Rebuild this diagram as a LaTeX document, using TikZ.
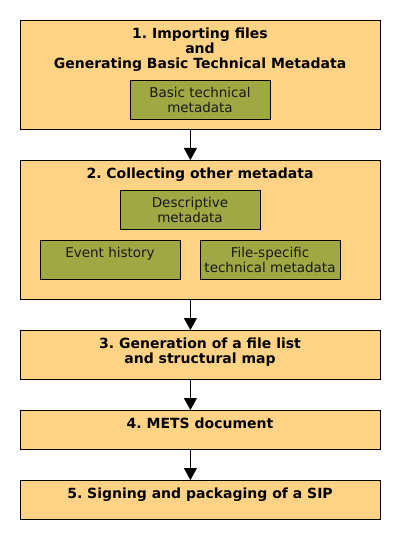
\documentclass[tikz,border=0pt]{standalone}
\usepackage{fontspec}
\setmainfont{DejaVu Sans}
\frenchspacing
\usetikzlibrary{arrows.meta}
\definecolor{stageorange}{HTML}{FFD385}
\definecolor{metagreen}{HTML}{A0A843}
\tikzset{
  stagebox/.style={draw=black, line width=0.8pt, fill=stageorange, minimum width=360pt, inner sep=0pt, anchor=north west},
  metabox/.style={draw=black, line width=0.8pt, fill=metagreen, minimum width=140pt, minimum height=39pt, inner sep=0pt, anchor=north west},
  title/.style={font=\fontsize{14}{15}\selectfont\bfseries, align=center, inner sep=0pt, anchor=north},
  metatext/.style={font=\fontsize{13.5}{15}\selectfont, align=center, inner sep=0pt, anchor=north, text=black!90},
  flow/.style={draw=black, line width=0.8pt, -{Triangle[length=12pt,width=13pt]}}
}
\begin{document}
\begin{tikzpicture}[x=1pt,y=-1pt]
\useasboundingbox (0,0) rectangle (400,540);
% stage boxes
\node[stagebox, minimum height=109pt] (s1) at (20,20) {};
\node[stagebox, minimum height=139pt] (s2) at (20,160) {};
\node[stagebox, minimum height=49pt] (s3) at (20,330) {};
\node[stagebox, minimum height=39pt] (s4) at (20,410) {};
\node[stagebox, minimum height=39pt] (s5) at (20,480) {};
% titles
\node[title] (t1) at (200,27.7) {1. Importing files\\and\\Generating Basic Technical Metadata};
\node[title] (t2) at (200,167.7) {2. Collecting other metadata};
\node[title] (t3) at (200,337.7) {3. Generation of a file list\\and structural map};
\node[title] (t4) at (200,417.7) {4. METS document};
\node[title] (t5) at (200,487.7) {5. Signing and packaging of a SIP};
% metadata boxes
\node[metabox] (m1) at (130,80) {};
\node[metatext] (mt1) at (200,87) {Basic technical\\metadata};
\node[metabox] (m2) at (120,190) {};
\node[metatext] (mt2) at (190,197) {Descriptive\\metadata};
\node[metabox] (m3) at (40,240) {};
\node[metatext] (mt3) at (110,247) {Event history};
\node[metabox] (m4) at (200,240) {};
\node[metatext] (mt4) at (270,247) {File-specific\\technical metadata};
% connectors
\draw[flow] ([xshift=-10pt]s1.south) -- ([xshift=-10pt]s2.north);
\draw[flow] ([xshift=-10pt]s2.south) -- ([xshift=-10pt]s3.north);
\draw[flow] ([xshift=-10pt]s3.south) -- ([xshift=-10pt]s4.north);
\draw[flow] ([xshift=-10pt]s4.south) -- ([xshift=-10pt]s5.north);
\end{tikzpicture}
\end{document}
